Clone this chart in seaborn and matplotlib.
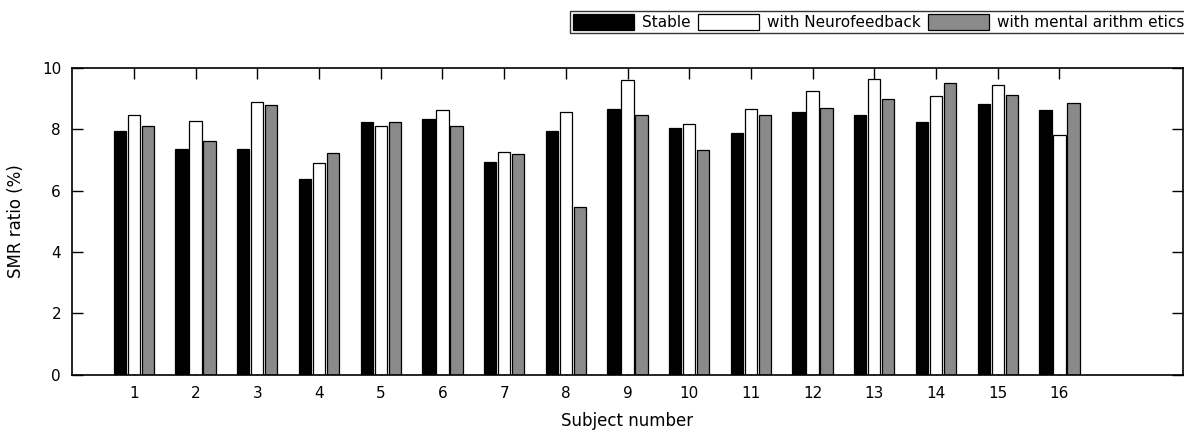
import numpy as np
import pandas as pd
import matplotlib
matplotlib.use("Agg")
import matplotlib.pyplot as plt
import seaborn as sns

# values
subjects = list(range(1, 17))
stable = [7.95, 7.37, 7.37, 6.37, 8.23, 8.33, 6.93, 7.96,
          8.67, 8.03, 7.89, 8.56, 8.45, 8.23, 8.84, 8.64]
neurofeedback = [8.45, 8.27, 8.88, 6.90, 8.12, 8.62, 7.26, 8.58,
                 9.62, 8.18, 8.67, 9.24, 9.63, 9.07, 9.44, 7.80]
arithmetics = [8.12, 7.62, 8.78, 7.24, 8.25, 8.12, 7.19, 5.48,
               8.47, 7.32, 8.46, 8.70, 8.99, 9.50, 9.13, 8.86]
conditions = ["Stable", "with Neurofeedback", "with mental arithm etics"]

df = pd.DataFrame({
    "subject": subjects * 3,
    "condition": np.repeat(conditions, len(subjects)),
    "value": stable + neurofeedback + arithmetics,
})

sns.set_style("ticks")
plt.rcParams["font.family"] = ["DejaVu Sans"]
plt.rcParams.update({"text.color": "black", "axes.labelcolor": "black",
                     "xtick.color": "black", "ytick.color": "black"})

fig = plt.figure(figsize=(11.84, 4.33), dpi=100)
ax = fig.add_axes([0.061, 0.135, 0.938, 0.708])

palette = {"Stable": "black", "with Neurofeedback": "white",
           "with mental arithm etics": "#8a8a8a"}
sns.barplot(data=df, x="subject", y="value", hue="condition",
            native_scale=True, palette=palette, width=0.68, gap=0.12,
            edgecolor="black", linewidth=0.9, saturation=1, ax=ax)

ax.set_xlim(0, 18)
ax.set_ylim(0, 10)
ax.set_xticks(subjects)
ax.set_yticks([0, 2, 4, 6, 8, 10])
ax.tick_params(direction="in", length=8, width=1, top=True, right=True,
               labelsize=11, pad=8)
for s in ax.spines.values():
    s.set_linewidth(1.2)
    s.set_color("black")
ax.set_xlabel("Subject number", fontsize=12, labelpad=8)
ax.set_ylabel("SMR ratio (%)", fontsize=12, labelpad=12)

ax.legend(loc="upper right", bbox_to_anchor=(1.004, 1.185), ncol=3,
          frameon=True, fancybox=False, edgecolor="black", fontsize=11,
          handlelength=4.0, handleheight=1.2, columnspacing=0.5,
          handletextpad=0.5, borderpad=0.2, borderaxespad=0)
ax.get_legend().get_frame().set_linewidth(1.0)

fig.savefig("out.png", dpi=100)
